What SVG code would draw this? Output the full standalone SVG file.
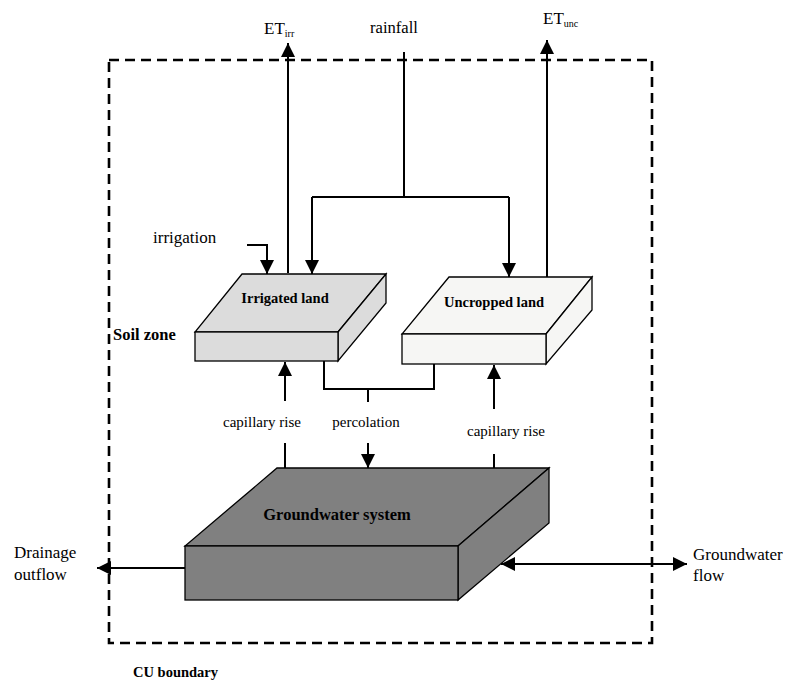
<svg xmlns="http://www.w3.org/2000/svg" width="788" height="691" viewBox="0 0 788 691">
<style>
text{font-family:"Liberation Serif","Times New Roman",serif;fill:#000}
.b{font-weight:bold}
.box{stroke:#000;stroke-width:1.3;stroke-linejoin:miter}
.ln{fill:none;stroke:#000;stroke-width:2}
.bd{fill:none;stroke:#000;stroke-width:2.6;stroke-dasharray:10,6}
</style>
<defs>
<marker id="ah" markerUnits="userSpaceOnUse" markerWidth="16" markerHeight="16" viewBox="0 0 16 16" refX="14" refY="8" orient="auto-start-reverse">
<path d="M0,1 L14,8 L0,15 Z" fill="#000"/>
</marker>
</defs>
<rect id="boundary" class="bd" x="109" y="60" width="543" height="583"/>
<g id="irrigated">
<polygon class="box" fill="#dcdcdc" points="242,274 386,274 338,332 195,332"/>
<polygon class="box" fill="#dcdcdc" points="338,332 386,274 386,303 338,361"/>
<rect class="box" fill="#dcdcdc" x="195" y="332" width="143" height="29"/>
<text class="b" x="285" y="303" font-size="14.5" text-anchor="middle">Irrigated land</text>
</g>
<g id="uncropped">
<polygon class="box" fill="#f6f6f4" points="449,277 592,277 546,334 402,334"/>
<polygon class="box" fill="#f6f6f4" points="546,334 592,277 592,310 546,364"/>
<rect class="box" fill="#f6f6f4" x="402" y="334" width="144" height="30"/>
<text class="b" x="494" y="307" font-size="14.5" text-anchor="middle">Uncropped land</text>
</g>
<g id="groundwater">
<polygon class="box" fill="#808080" points="277,468 549,468 458,546 185,546"/>
<polygon class="box" fill="#808080" points="458,546 549,468 549,523 458,600"/>
<rect class="box" fill="#808080" x="185" y="546" width="273" height="54"/>
<text class="b" x="337" y="520" font-size="16.5" text-anchor="middle">Groundwater system</text>
</g>
<g id="connectors">
<line class="ln" x1="288" y1="273" x2="288" y2="43" marker-end="url(#ah)"/>
<line class="ln" x1="547" y1="277" x2="547" y2="40" marker-end="url(#ah)"/>
<line class="ln" x1="404" y1="52" x2="404" y2="197"/>
<polyline class="ln" points="312,197 509,197"/>
<line class="ln" x1="312" y1="197" x2="312" y2="274" marker-end="url(#ah)"/>
<line class="ln" x1="509" y1="197" x2="509" y2="277" marker-end="url(#ah)"/>
<polyline class="ln" points="247,245 267,245 267,274" marker-end="url(#ah)"/>
<line class="ln" x1="285" y1="401" x2="285" y2="362" marker-end="url(#ah)"/>
<line class="ln" x1="285" y1="443" x2="285" y2="468"/>
<polyline class="ln" points="324,361 324,389 434,389 434,364"/>
<line class="ln" x1="368" y1="389" x2="368" y2="402"/>
<line class="ln" x1="368" y1="443" x2="368" y2="468" marker-end="url(#ah)"/>
<line class="ln" x1="494" y1="409" x2="494" y2="365" marker-end="url(#ah)"/>
<line class="ln" x1="494" y1="454" x2="494" y2="468"/>
<line class="ln" x1="185" y1="568" x2="97" y2="568" marker-end="url(#ah)"/>
<line class="ln" x1="501" y1="564" x2="687" y2="564" marker-start="url(#ah)" marker-end="url(#ah)"/>
</g>
<g id="labels">
<text x="264" y="34" font-size="17">ET<tspan font-size="10" dy="3">irr</tspan></text>
<text x="543" y="24" font-size="17">ET<tspan font-size="10" dy="3">unc</tspan></text>
<text x="370" y="33" font-size="16.6">rainfall</text>
<text x="153" y="243" font-size="17">irrigation</text>
<text class="b" x="113" y="340" font-size="16.5">Soil zone</text>
<text x="262" y="427" font-size="15" text-anchor="middle">capillary rise</text>
<text x="366" y="427" font-size="15" text-anchor="middle">percolation</text>
<text x="506" y="436" font-size="15" text-anchor="middle">capillary rise</text>
<text x="14" y="558" font-size="17">Drainage</text>
<text x="14" y="580" font-size="17">outflow</text>
<text x="693" y="560" font-size="17">Groundwater</text>
<text x="693" y="581" font-size="17">flow</text>
<text class="b" x="133" y="677" font-size="14.5">CU boundary</text>
</g>
</svg>
